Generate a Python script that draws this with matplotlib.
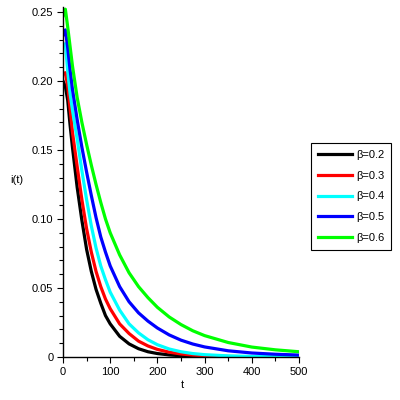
import matplotlib
matplotlib.use("Agg")
import matplotlib.pyplot as plt
from matplotlib.ticker import MultipleLocator, FixedLocator

plt.rcParams['font.family'] = ['Liberation Sans', 'DejaVu Sans']

t = [0, 5, 10, 15, 20, 30, 40, 50, 60, 70, 80, 90, 100, 120, 140, 160, 180,
     200, 225, 250, 275, 300, 350, 400, 450, 500]

i_b02 = [0.200, 0.196, 0.186, 0.168, 0.152, 0.123, 0.099, 0.078, 0.062, 0.049,
         0.039, 0.030, 0.024, 0.015, 0.0095, 0.006, 0.0038, 0.0025, 0.0015,
         0.0009, 0.0005, 0.0003, 0.0001, 0.00005, 0.00002, 0.00001]
i_b03 = [0.205, 0.206, 0.196, 0.180, 0.163, 0.138, 0.114, 0.093, 0.076, 0.062,
         0.051, 0.042, 0.035, 0.024, 0.017, 0.0115, 0.008, 0.0055, 0.0035,
         0.0022, 0.0014, 0.0009, 0.0004, 0.0002, 0.0001, 0.00005]
i_b04 = [0.226, 0.227, 0.207, 0.191, 0.179, 0.158, 0.135, 0.114, 0.095, 0.079,
         0.066, 0.056, 0.047, 0.034, 0.024, 0.0175, 0.0125, 0.0089, 0.0058,
         0.0038, 0.0025, 0.0017, 0.0008, 0.0004, 0.0002, 0.0001]
i_b05 = [0.233, 0.237, 0.224, 0.208, 0.194, 0.172, 0.152, 0.134, 0.117, 0.101,
         0.087, 0.076, 0.066, 0.051, 0.040, 0.032, 0.026, 0.021, 0.016, 0.0122,
         0.0094, 0.0073, 0.0045, 0.0029, 0.0020, 0.0014]
i_b06 = [0.247, 0.252, 0.239, 0.225, 0.211, 0.188, 0.170, 0.154, 0.139, 0.125,
         0.112, 0.100, 0.090, 0.074, 0.061, 0.051, 0.043, 0.036, 0.029, 0.0235,
         0.019, 0.0155, 0.0105, 0.0072, 0.0052, 0.0038]

series = [i_b02, i_b03, i_b04, i_b05, i_b06]
labels = ["β=0.2", "β=0.3", "β=0.4", "β=0.5", "β=0.6"]
colors = ["#000000", "#ff0000", "#00ffff", "#0000ff", "#00ff00"]

xticks = [0, 100, 200, 300, 400, 500]
yticks = [0, 0.05, 0.10, 0.15, 0.20, 0.25]
ytick_labels = ["0", "0.05", "0.10", "0.15", "0.20", "0.25"]

fig = plt.figure(figsize=(4, 4), dpi=100)
ax = fig.add_axes([63/400, 43/400, 236/400, 350/400])

for y, lab, c in zip(series, labels, colors):
    ax.plot(t, y, color=c, lw=2.3, label=lab, solid_joinstyle='round')

ax.set_xlim(0, 500)
ax.set_ylim(0, 0.2536)
ax.spines['top'].set_visible(False)
ax.spines['right'].set_visible(False)
ax.spines['left'].set_linewidth(1.0)
ax.spines['bottom'].set_linewidth(1.0)

ax.xaxis.set_major_locator(FixedLocator(xticks))
ax.xaxis.set_minor_locator(MultipleLocator(50))
ax.set_xticklabels([str(v) for v in xticks])
ax.yaxis.set_major_locator(FixedLocator(yticks))
ax.yaxis.set_minor_locator(MultipleLocator(0.01))
ax.set_yticklabels(ytick_labels)

ax.tick_params(which='both', direction='out', width=0.8, labelsize=8, pad=3)
ax.tick_params(which='major', length=4)
ax.tick_params(which='minor', length=3)

fig.text(17/400, 1 - 180/400, "i(t)", fontsize=8, ha='center', va='center')
fig.text(182/400, 1 - 385/400, "t", fontsize=8, ha='center', va='center')

leg = ax.legend(loc='upper left', bbox_to_anchor=(311/400, 1 - 143/400),
                bbox_transform=fig.transFigure, fontsize=8, frameon=True,
                fancybox=False, edgecolor='black', framealpha=1,
                handlelength=3.1, handletextpad=0.4, labelspacing=0.98,
                borderpad=0.6, borderaxespad=0)
leg.get_frame().set_linewidth(0.8)
for line in leg.get_lines():
    line.set_linewidth(2.3)

fig.savefig("out.png", dpi=100)
